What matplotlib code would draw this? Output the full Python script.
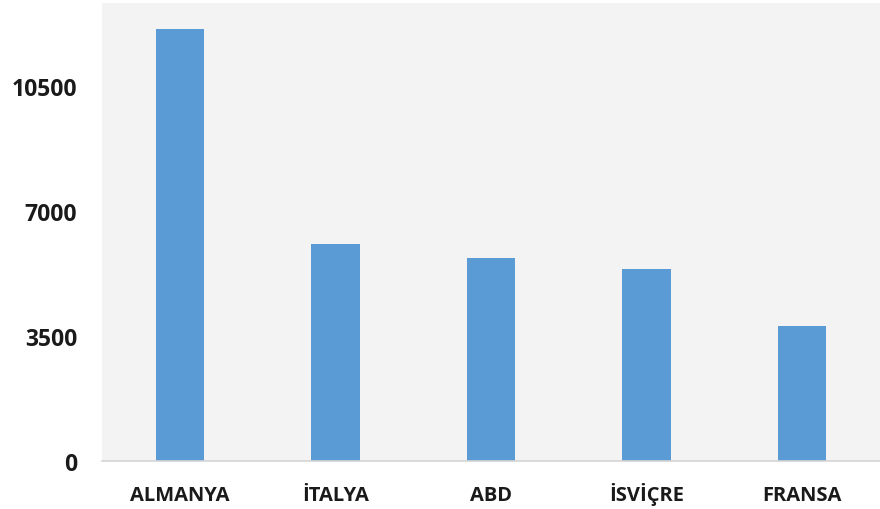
import matplotlib.pyplot as plt

# Chart data
countries = ["ALMANYA", "İTALYA", "ABD", "İSVİÇRE", "FRANSA"]
values = [12100, 6080, 5680, 5380, 3780]
y_ticks = [0, 3500, 7000, 10500]

plt.rcParams['font.family'] = ['Open Sans', 'DejaVu Sans']

fig = plt.figure(figsize=(8.8, 5.1), dpi=100)
ax = fig.add_axes([102 / 880, 48 / 510, 778 / 880, 458 / 510])
ax.set_facecolor('#f3f3f3')

ax.bar(range(len(countries)), values, width=0.31, color='#5b9bd5')

ax.set_xlim(-0.5, len(countries) - 0.5)
ax.set_ylim(0, 3500 * 458 / 125)
ax.set_yticks(y_ticks)
ax.set_xticks(range(len(countries)))
ax.set_xticklabels(countries, fontsize=14.5, fontweight='bold', va='baseline')
ax.set_yticklabels([str(t) for t in y_ticks], fontsize=16.5, fontweight='bold')

for side in ['top', 'right', 'left']:
    ax.spines[side].set_visible(False)
ax.spines['bottom'].set_color('#d4d4d4')
ax.spines['bottom'].set_linewidth(1.2)
ax.tick_params(axis='both', length=0, colors='#1a1a1a')
ax.tick_params(axis='x', pad=28)
ax.tick_params(axis='y', pad=18)

fig.savefig('out.png', dpi=100)
